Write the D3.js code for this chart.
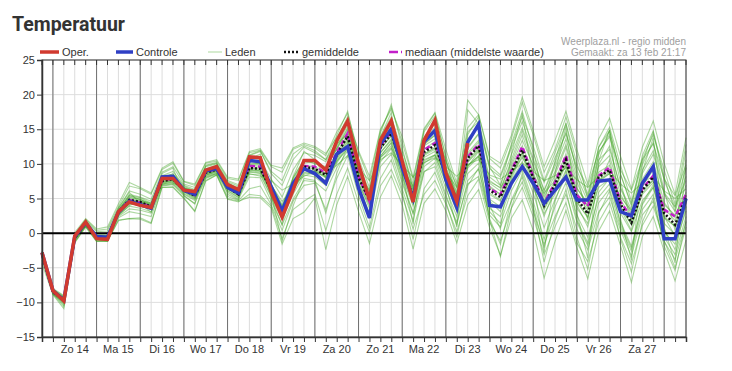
<!DOCTYPE html>
<html>
<head>
<meta charset="utf-8">
<title>Temperatuur</title>
<script src="https://cdn.jsdelivr.net/npm/d3@7"></script>
<style>
	body { margin: 0; background: #fff; }
	svg { display: block; }
	text { font-family: Arial, "Liberation Sans", sans-serif; }
</style>
</head>
<body>
<div id="chart"></div>
<script>

// run starts 13 feb 18:00, one value every 6 hours
const startTime = Date.UTC(2021, 1, 13, 18);
const stepCount = 60;

const dayLabels = ['Zo 14','Ma 15','Di 16','Wo 17','Do 18','Vr 19','Za 20','Zo 21','Ma 22','Di 23','Wo 24','Do 25','Vr 26','Za 27'];
const yTicks = [-15, -10, -5, 0, 5, 10, 15, 20, 25];

const oper = [-2.8,-8.3,-9.8,-0.4,1.6,-0.8,-0.9,3.1,4.5,4.0,3.7, 7.9,7.9,6.2,6.0,9.1,9.6,7.0,6.3,11.0,10.9,
	6.0,2.3,6.2,10.5,10.5,9.1,13.3,16.2,10.0,4.8, 13.4,16.2,10.4,4.5,13.4,16.3,8.7,4.6,13.0];

const controle = [-2.8,-8.3,-9.7,-0.5,1.5,-0.5,-0.6,3.0,4.6,4.1,3.6, 8.1,8.2,6.2,5.6,9.0,9.3,6.6,5.8,10.5,10.3,
	6.7,3.2,7.2,9.3,8.6,7.2,11.4,12.5,6.5,2.2, 12.9,15.0,9.4,5.0,13.2,14.8,7.7,3.7,13.1,15.7,
	4.0,3.8,7.2,9.6,7.2,4.3,6.2,8.1,4.8,4.8,7.5,7.7,3.1,2.5,7.2,9.6,-0.8,-0.8,5.0];

const gemiddelde = [-3.1,-8.5,-9.6,-0.7,1.4,-0.6,-0.6,3.0,4.8,4.5,3.8, 7.5,7.8,6.2,5.4,8.7,9.2,6.6,5.6,9.4,9.3,
	6.2,3.1,6.9,9.6,9.3,8.4,11.3,14.0,8.0,4.8, 12.3,14.4,9.6,5.2,11.7,12.7,8.4,4.8,10.8,12.6,
	6.2,5.2,8.8,12.0,8.0,4.0,7.0,10.6,5.0,2.8,8.1,9.1,4.2,1.5,6.2,8.1,2.9,1.2,5.2];

const mediaan = [-3.0,-8.5,-9.6,-0.6,1.5,-0.6,-0.7,3.1,4.8,4.4,3.8, 7.6,7.9,6.2,5.5,8.8,9.3,6.6,5.7,9.7,9.6,
	6.3,3.0,7.0,9.7,9.6,8.7,11.6,14.4,8.2,4.6, 12.6,14.6,9.8,5.0,12.0,13.0,8.3,4.6,11.0,12.8,
	6.4,5.6,9.0,12.5,8.2,4.3,7.3,11.2,5.5,3.9,8.3,9.5,4.5,2.3,6.4,8.3,3.4,2.4,5.6];

// ensemble members, read as a bundle off the picture
const leden = [
	[-2.6,-8.1,-9.1,-0.2,2.0,0.4,0.6,3.8,6.8,6.4,5.6, 9.2,10.1,7.4,6.9,10.1,10.4,7.9,7.6,11.6,12.0,
	 9.6,8.8,12.1,12.8,12.3,11.2,14.6,17.3,11.6,7.6, 14.8,18.2,13.1,7.8,14.6,16.9,11.2,6.6,15.2,17.1,
	 10.8,9.4,13.6,18.9,14.2,8.8,12.1,16.8,11.4,5.0,12.4,15.3,9.8,4.6,10.7,14.2,9.1,4.2,12.8],
	[-4.4,-8.9,-10.9,-1.4,0.9,-1.2,-1.2,1.9,2.1,2.0,1.4, 6.6,6.7,5.1,3.2,7.6,8.4,5.0,4.6,5.2,5.1,
	 3.6,-1.6,2.1,3.0,5.1,-2.4,4.1,8.2,3.1,-1.5, 5.2,8.3,4.1,-2.3,4.3,6.4,3.2,-1.4,4.1,6.3,
	 0.8,-3.2,2.2,4.8,0.4,-6.5,-1.2,3.3,-2.1,-6.6,0.3,3.2,-1.8,-7.1,-0.5,2.4,-2.6,-6.9,-1.0],
	[-3.0,-8.4,-9.4,-0.5,1.6,-0.4,-0.3,3.3,5.2,4.9,4.1, 8.0,8.3,6.5,5.9,9.2,9.7,7.0,6.1,10.2,10.0,
	 7.0,3.8,7.6,10.4,10.2,9.3,12.3,15.2,9.0,5.6, 13.4,15.6,10.6,6.1,12.9,14.1,9.3,5.8,12.2,14.3,
	 7.6,6.5,10.1,14.2,9.6,5.2,8.4,12.4,6.6,3.9,9.6,11.2,5.6,2.7,7.8,10.3,4.4,2.3,6.9],
	[-3.2,-8.6,-9.8,-0.9,1.2,-0.8,-0.9,2.7,4.3,4.0,3.4, 7.1,7.4,5.9,5.0,8.3,8.9,6.2,5.2,8.8,8.6,
	 5.4,2.4,6.1,8.8,8.4,7.6,10.3,12.8,7.1,4.0, 11.1,13.0,8.4,4.2,10.4,11.3,7.4,3.9,9.4,11.0,
	 4.9,3.8,7.6,10.3,6.6,2.8,5.7,9.1,3.6,1.4,6.6,7.8,2.9,0.2,4.7,6.6,1.4,-0.2,3.9],
	[-3.3,-8.7,-10.4,-0.4,1.9,-1.0,-1.1,3.6,5.9,4.3,3.0, 8.6,9.4,5.4,4.2,9.8,10.2,5.6,4.8,10.8,11.4,
	 5.1,1.2,8.1,11.8,10.6,7.9,13.6,16.8,6.8,2.1, 13.9,17.4,8.6,1.3,13.8,16.1,6.9,0.9,14.2,16.8,
	 4.1,0.6,11.4,17.3,7.9,-2.8,8.6,15.4,2.9,-3.6,10.4,14.9,2.1,-3.9,8.9,13.8,0.8,-4.3,9.6],
	[-2.9,-8.3,-9.3,-0.9,1.0,-0.2,0.0,2.5,4.0,4.6,4.4, 7.0,7.2,6.6,6.2,8.1,8.6,7.2,6.6,8.6,8.2,
	 7.6,6.2,7.1,8.2,8.9,8.7,9.8,11.2,9.4,7.6, 10.6,11.6,9.8,8.1,10.2,10.9,9.6,8.2,9.9,10.6,
	 8.4,7.8,8.9,10.1,8.9,7.6,8.3,9.4,7.7,6.6,8.2,9.0,7.1,5.8,7.3,8.2,6.1,5.0,6.4],
	[-3.1,-8.5,-9.7,-0.7,1.5,-0.7,-0.8,3.1,4.9,4.6,3.9, 7.7,8.1,6.3,5.6,8.9,9.4,6.8,5.9,9.9,10.1,
	 6.8,3.9,7.4,10.1,10.4,9.1,12.6,15.6,9.2,5.9, 13.6,16.1,11.2,6.6,13.4,15.3,10.4,6.8,13.6,15.6,
	 9.3,8.1,12.2,16.1,11.6,7.3,10.9,14.3,9.6,6.7,11.8,13.9,9.1,6.2,10.6,12.9,7.8,5.4,9.9],
	[-3.0,-8.4,-9.9,-0.8,1.3,-0.9,-1.0,2.8,4.6,4.2,3.6, 7.3,7.6,6.0,5.1,8.4,9.0,6.4,5.4,9.0,8.9,
	 5.8,2.6,6.3,9.1,8.6,7.4,10.6,13.1,7.2,3.6, 10.9,12.6,7.6,2.9,8.9,9.6,5.2,1.6,7.1,8.2,
	 2.6,0.9,4.6,7.4,3.1,-1.6,2.4,5.6,0.6,-2.4,3.1,5.2,0.4,-3.3,2.6,4.6,-1.2,-3.8,1.6],
	[-3.2,-8.6,-9.5,-0.6,1.4,-0.5,-0.4,3.2,5.4,5.1,4.3, 7.9,8.6,6.8,6.0,9.3,9.8,7.3,6.3,10.4,10.6,
	 7.8,5.2,9.1,11.6,11.2,10.3,12.9,14.3,8.6,5.1, 11.6,13.4,9.9,6.2,11.2,12.1,8.6,5.4,10.2,11.9,
	 6.8,5.6,9.7,13.4,9.8,5.6,8.9,12.8,7.4,3.6,9.9,12.6,6.4,2.9,8.6,11.4,5.6,3.1,8.2],
	[-3.0,-8.5,-9.6,-0.5,1.5,-0.6,-0.7,2.9,4.7,4.3,3.7, 7.4,7.7,6.1,5.3,8.6,9.1,6.5,5.5,9.2,9.0,
	 5.9,2.8,6.6,9.3,9.0,8.1,11.0,13.6,7.8,4.5, 12.1,14.1,9.4,4.9,11.4,12.4,8.2,4.4,10.5,12.3,
	 5.8,4.8,8.4,11.7,7.6,3.6,6.6,10.2,4.6,2.2,7.7,8.8,3.9,1.2,5.8,7.7,2.4,0.9,4.8],
	[-3.4,-8.8,-10.1,-1.1,1.1,-1.1,-1.2,2.2,3.1,2.8,2.4, 6.8,7.0,5.4,4.3,7.9,8.5,5.3,4.7,6.4,6.8,
	 4.1,0.4,4.6,6.9,7.2,3.4,7.9,11.2,5.4,0.8, 7.9,10.6,5.9,-0.9,6.4,8.8,4.6,-0.6,6.8,9.4,
	 2.1,-1.6,4.8,8.1,3.6,-4.2,1.9,6.3,-0.6,-5.2,2.8,6.1,-0.9,-5.6,1.6,5.1,-1.9,-5.4,1.8],
	[-2.7,-8.2,-9.2,-0.3,1.8,0.2,0.3,3.6,6.1,5.6,4.9, 8.8,9.6,7.1,6.6,9.7,10.1,7.6,7.0,11.2,11.8,
	 8.9,7.6,11.4,12.6,11.9,10.6,14.1,17.6,10.8,6.6, 14.4,18.6,12.3,6.4,14.9,17.3,10.8,4.6,17.8,15.8,
	 9.6,6.9,12.9,17.6,12.1,4.4,10.4,15.9,8.6,1.9,11.6,14.2,7.4,1.6,9.9,13.1,6.1,0.4,10.6],
	[-3.3,-8.7,-9.9,-0.9,1.3,-0.8,-0.8,2.6,3.9,3.6,3.1, 7.1,7.3,5.7,4.9,8.2,8.7,6.1,5.1,8.5,8.4,
	 5.2,2.0,5.6,8.4,8.1,6.9,10.1,12.5,6.6,3.0, 10.3,12.2,7.2,2.8,9.6,10.8,6.4,2.4,8.6,10.1,
	 3.6,2.4,6.8,9.8,5.8,0.8,4.9,8.2,2.6,-0.6,5.2,7.1,1.6,-1.9,4.1,6.6,0.2,-1.6,3.2],
	[-2.8,-8.2,-9.3,-0.4,1.7,-0.3,-0.2,3.4,5.6,5.2,4.6, 8.2,8.5,6.6,5.8,9.0,9.5,7.1,6.2,9.8,9.7,
	 6.6,3.6,7.9,10.6,10.0,9.6,12.1,14.7,8.8,5.3, 12.8,15.1,10.2,5.6,12.6,13.6,9.1,5.2,11.6,13.4,
	 7.2,6.1,10.6,14.8,10.4,6.1,9.6,13.6,8.1,4.6,10.6,12.1,6.6,3.4,9.1,11.9,5.8,3.8,7.6],
	[-3.1,-8.4,-9.5,-0.8,1.3,-0.4,-0.5,2.6,4.2,4.4,4.2, 7.2,7.5,6.5,5.9,8.4,8.8,6.9,6.0,8.9,8.7,
	 6.9,4.6,6.4,8.6,8.8,8.2,10.4,12.1,8.4,6.2, 10.9,12.3,9.2,6.8,10.6,11.3,8.8,6.6,9.8,11.1,
	 7.4,6.6,8.6,10.9,8.4,5.8,7.6,9.6,6.4,4.4,7.4,8.6,5.2,3.3,6.2,7.6,4.1,2.6,5.4],
	[-3.5,-8.6,-10.2,-1.2,1.1,-1.0,-1.1,2.4,3.5,3.3,2.9, 6.9,7.1,5.6,4.7,8.0,8.6,5.9,4.9,8.1,8.0,
	 4.6,1.2,4.9,7.6,7.4,6.1,9.4,11.9,6.1,2.4, 9.6,11.4,6.4,1.8,8.8,10.2,5.6,1.2,7.6,9.2,
	 3.1,1.4,6.1,9.1,4.6,-0.9,3.8,7.3,1.6,-1.8,4.4,6.4,0.8,-2.6,3.4,5.6,-0.6,-3.1,2.4],
	[-2.6,-8.0,-9.0,0.1,2.1,0.6,0.9,4.2,7.3,6.6,5.8, 9.4,10.3,7.5,7.1,10.2,10.6,8.1,7.8,11.8,12.2,
	 9.8,9.4,12.3,13.0,12.5,11.5,13.8,16.4,11.9,8.2, 15.0,17.9,13.9,8.0,15.1,17.4,12.1,7.2,19.2,17.1,
	 11.1,10.1,14.1,19.6,14.8,9.6,13.4,17.6,12.1,7.1,13.6,16.6,11.1,6.4,12.4,16.2,10.1,5.6,13.8],
	[-3.9,-8.8,-10.6,-1.3,0.9,-1.2,-1.1,1.8,2.1,2.2,1.5, 6.6,6.6,5.0,3.1,7.5,8.4,4.9,4.5,5.6,5.4,
	 3.9,-0.8,3.4,4.6,5.6,0.4,5.6,9.4,4.4,0.1, 6.8,9.2,5.4,0.6,5.6,7.6,4.2,0.2,5.4,7.8,
	 1.6,-1.1,3.6,6.6,2.4,-3.1,0.9,4.4,-1.4,-4.1,1.6,4.4,-0.6,-4.4,1.1,3.9,-1.1,-5.0,0.9],
	[-3.1,-8.6,-9.7,-0.6,1.5,-0.6,-0.6,3.0,4.9,4.6,3.9, 7.8,8.0,6.3,5.5,8.8,9.3,6.7,5.7,9.6,9.5,
	 6.4,3.3,7.2,9.8,9.6,8.7,11.6,14.2,8.3,4.9, 12.6,14.6,9.9,5.5,12.1,13.2,8.7,5.0,11.3,13.1,
	 6.6,5.6,9.3,12.6,8.8,4.6,7.6,11.4,5.9,3.3,8.8,9.8,4.9,2.1,6.9,9.1,3.6,1.8,5.9],
	[-3.0,-8.4,-9.6,-0.7,1.4,-0.5,-0.6,3.0,4.6,4.4,3.8, 7.6,7.9,6.2,5.4,8.7,9.2,6.6,5.6,9.4,9.2,
	 6.1,3.0,6.8,9.4,9.3,8.3,11.1,13.8,7.9,4.6, 12.2,14.0,9.2,4.8,11.4,12.3,8.1,4.3,10.3,12.1,
	 5.6,4.6,8.2,11.6,7.4,3.4,6.4,9.8,4.4,2.4,7.6,8.6,3.6,1.3,5.6,7.3,2.2,1.0,4.6],
	[-3.2,-8.5,-9.8,-0.8,1.3,-0.7,-0.8,2.9,4.4,4.1,3.5, 7.3,7.6,6.0,5.2,8.5,9.0,6.4,5.4,9.1,9.0,
	 6.0,2.7,6.5,9.2,8.9,8.0,10.8,13.3,7.4,4.2, 11.6,13.6,8.9,4.4,10.9,11.8,7.7,3.8,9.7,11.2,
	 1.9,-3.4,3.6,8.6,3.9,-2.1,4.6,8.9,1.9,-1.4,5.9,7.9,1.2,-2.2,4.3,7.0,0.6,-2.4,3.8],
	[-2.9,-8.3,-9.4,-0.5,1.6,-0.4,-0.4,3.2,5.1,4.8,4.0, 7.9,8.2,6.4,5.7,9.0,9.5,6.9,6.0,10.0,9.9,
	 7.1,4.1,8.0,10.6,10.4,9.4,12.2,15.0,9.1,5.6, 13.0,15.4,10.6,5.8,12.8,14.2,9.6,5.4,12.4,14.4,
	 8.1,6.9,11.3,15.2,10.8,6.2,10.1,14.6,9.1,5.1,11.3,14.8,8.4,4.2,10.1,14.6,7.6,3.8,9.4],
	[-3.0,-8.5,-9.6,-0.6,1.4,-0.6,-0.7,3.0,4.8,4.5,3.8, 7.5,7.8,6.2,5.4,8.7,9.2,6.6,5.6,9.3,9.3,
	 5.6,-1.2,3.9,7.9,7.6,2.9,8.6,12.6,6.9,2.6, 11.1,13.1,8.1,3.9,10.1,11.2,7.2,3.1,9.6,11.8,
	 4.6,3.1,7.9,11.2,6.9,2.4,6.4,10.9,4.1,0.9,7.1,10.6,3.6,0.4,6.6,9.9,2.4,-0.4,4.4],
	[-3.0,-8.4,-9.5,-0.5,1.6,-0.5,-0.4,3.3,5.4,4.9,4.2, 8.3,8.9,6.9,6.3,9.6,10.0,7.4,6.8,11.3,11.9,
	 8.6,6.9,10.6,12.4,11.6,10.6,13.2,16.2,9.9,6.1, 13.9,16.8,11.8,7.1,13.7,15.8,10.3,5.9,14.6,16.1,
	 9.8,8.4,12.6,16.8,12.6,7.6,11.6,15.8,10.1,5.6,12.4,14.8,8.6,3.9,11.2,14.8,8.1,3.1,11.9]
];

const width = 732;
const height = 371;
const margin = { top: 60, right: 46, bottom: 34, left: 42 };

const stepMs = 6 * 3600 * 1000;
const times = d3.range(stepCount).map(function(i){ return new Date(startTime + i * stepMs); });

const svg = d3.select('#chart').append('svg')
	.attr('width', width)
	.attr('height', height);

const x = d3.scaleUtc()
	.domain([times[0], times[stepCount - 1]])
	.range([margin.left, width - margin.right]);

const y = d3.scaleLinear()
	.domain([-15, 25])
	.range([height - margin.bottom, margin.top]);

const line = d3.line()
	.x(function(d, i){ return x(times[i]); })
	.y(function(d){ return y(d); });

// title
svg.append('text')
	.attr('x', 12)
	.attr('y', 31)
	.attr('font-size', 19.5)
	.attr('font-weight', 'bold')
	.style('font-family', 'Roboto, Arial, sans-serif')
	.attr('fill', '#333')
	.text('Temperatuur');

// source texts
svg.append('text')
	.attr('x', 686).attr('y', 45)
	.attr('text-anchor', 'end')
	.attr('font-size', 10)
	.attr('fill', '#a0a0a0')
	.text('Weerplaza.nl - regio midden');
svg.append('text')
	.attr('x', 686).attr('y', 56)
	.attr('text-anchor', 'end')
	.attr('font-size', 10)
	.attr('fill', '#a0a0a0')
	.text('Gemaakt: za 13 feb 21:17');

// grid
const sixHours = d3.utcHour.every(6).range(times[0], new Date(+times[stepCount - 1] + 1));
const midnights = sixHours.filter(function(t){ return t.getUTCHours() === 0; });

svg.append('g').selectAll('line')
	.data(yTicks)
	.join('line')
	.attr('x1', margin.left).attr('x2', width - margin.right)
	.attr('y1', function(d){ return y(d); }).attr('y2', function(d){ return y(d); })
	.attr('stroke', '#dedede');

svg.append('g').selectAll('line')
	.data(sixHours)
	.join('line')
	.attr('x1', function(d){ return x(d); }).attr('x2', function(d){ return x(d); })
	.attr('y1', margin.top).attr('y2', height - margin.bottom)
	.attr('stroke', '#dcdcdc');

svg.append('g').selectAll('line')
	.data(midnights)
	.join('line')
	.attr('x1', function(d){ return x(d); }).attr('x2', function(d){ return x(d); })
	.attr('y1', margin.top).attr('y2', height - margin.bottom)
	.attr('stroke', '#707070');

// members
svg.append('g').selectAll('path')
	.data(leden)
	.join('path')
	.attr('d', line)
	.attr('fill', 'none')
	.attr('stroke', '#3da322')
	.attr('stroke-opacity', 0.42)
	.attr('stroke-width', 1.1);

// zero line
svg.append('line')
	.attr('x1', margin.left).attr('x2', width - margin.right)
	.attr('y1', y(0)).attr('y2', y(0))
	.attr('stroke', '#000')
	.attr('stroke-width', 2);

svg.append('path')
	.attr('d', line(mediaan))
	.attr('fill', 'none')
	.attr('stroke', '#c21fc9')
	.attr('stroke-width', 2.5)
	.attr('stroke-dasharray', '5,3');

svg.append('path')
	.attr('d', line(gemiddelde))
	.attr('fill', 'none')
	.attr('stroke', '#111')
	.attr('stroke-width', 2.5)
	.attr('stroke-dasharray', '2,2');

svg.append('path')
	.attr('d', line(controle))
	.attr('fill', 'none')
	.attr('stroke', '#2f3fc4')
	.attr('stroke-width', 3.5);

svg.append('path')
	.attr('d', line(oper))
	.attr('fill', 'none')
	.attr('stroke', '#d13a2f')
	.attr('stroke-width', 3.5);

// frame
svg.append('rect')
	.attr('x', margin.left).attr('y', margin.top)
	.attr('width', width - margin.left - margin.right)
	.attr('height', height - margin.top - margin.bottom)
	.attr('fill', 'none')
	.attr('stroke', '#333');

// top ticks pointing in
svg.append('g').selectAll('line')
	.data(sixHours)
	.join('line')
	.attr('x1', function(d){ return x(d); }).attr('x2', function(d){ return x(d); })
	.attr('y1', margin.top).attr('y2', margin.top + 5)
	.attr('stroke', '#333');

// axes
const yAxis = svg.append('g')
	.attr('transform', 'translate(' + margin.left + ',0)')
	.call(d3.axisLeft(y).tickValues(yTicks).tickSize(5).tickPadding(2));
yAxis.select('.domain').attr('stroke', '#333').attr('stroke-width', 1.5);
yAxis.selectAll('.tick line').attr('stroke', '#333');
yAxis.selectAll('text').attr('font-size', 11).attr('fill', '#333').style('font-family', 'Arial, sans-serif');

const xAxis = svg.append('g')
	.attr('transform', 'translate(0,' + (height - margin.bottom) + ')')
	.call(d3.axisBottom(x).tickValues(sixHours).tickSize(5).tickFormat(''));
xAxis.select('.domain').attr('stroke', '#333').attr('stroke-width', 1.5);
xAxis.selectAll('.tick line').attr('stroke', '#333');

svg.append('g').selectAll('text')
	.data(dayLabels)
	.join('text')
	.attr('x', function(d, i){ return x(new Date(+midnights[i] + 2 * stepMs)); })
	.attr('y', height - margin.bottom + 16)
	.attr('text-anchor', 'middle')
	.attr('font-size', 11)
	.attr('fill', '#333')
	.text(function(d){ return d; });

// legend
const legend = [
	{ name: 'Oper.', x: 40, w: 19, color: '#d13a2f', width: 3.5, dash: null },
	{ name: 'Controle', x: 116, w: 17, color: '#2f3fc4', width: 3.5, dash: null },
	{ name: 'Leden', x: 208, w: 14, color: '#c9e6bf', width: 1.5, dash: null },
	{ name: 'gemiddelde', x: 284, w: 15, color: '#111', width: 2.5, dash: '2,2' },
	{ name: 'mediaan (middelste waarde)', x: 389, w: 13, color: '#c21fc9', width: 2.5, dash: '9,3' }
];
const lg = svg.append('g');
legend.forEach(function(item){
	lg.append('line')
		.attr('x1', item.x).attr('x2', item.x + item.w)
		.attr('y1', 52).attr('y2', 52)
		.attr('stroke', item.color)
		.attr('stroke-width', item.width)
		.attr('stroke-dasharray', item.dash);
	lg.append('text')
		.attr('x', item.x + item.w + 3)
		.attr('y', 56)
		.attr('font-size', 11)
		.attr('fill', '#333')
		.text(item.name);
});

</script>
</body>
</html>
